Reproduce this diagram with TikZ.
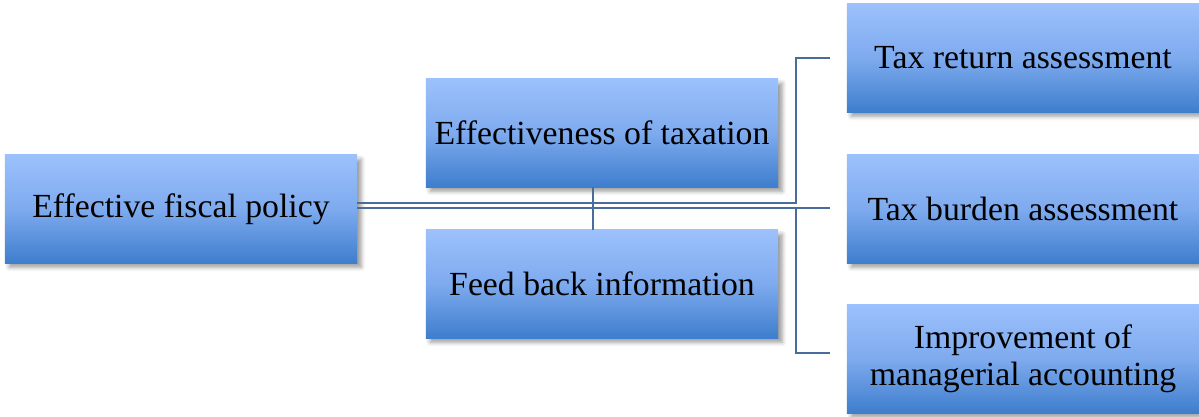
\documentclass[tikz,border=0pt]{standalone}
\usepackage{fontspec}
\setmainfont{Liberation Serif}
\usetikzlibrary{shadows.blur}
\definecolor{boxtop}{RGB}{156,193,252}
\definecolor{boxmid}{RGB}{126,170,238}
\definecolor{boxbot}{RGB}{62,126,205}
\definecolor{linecol}{RGB}{74,108,152}
\begin{document}
\begin{tikzpicture}[x=0.025cm,y=-0.025cm,
  box/.style={rectangle, minimum width=8.8cm, minimum height=2.7cm, inner sep=0pt,
    top color=boxtop, bottom color=boxbot, middle color=boxmid,
    blur shadow={shadow xshift=3pt, shadow yshift=-3pt, shadow blur radius=3pt, shadow opacity=40},
    font=\fontsize{24}{26}\selectfont, align=center, text=black},
  conn/.style={draw=linecol, line width=1.1pt},
  mainconn/.style={draw=linecol, line width=1.7pt}]
\useasboundingbox (0,0) rectangle (1199,416);
\node[box] (fiscal) at (181,209) {Effective fiscal policy};
\node[box] (eff) at (602,133) {Effectiveness of taxation};
\node[box] (feed) at (602,284) {Feed back information};
\node[box] (r1) at (1023,58) {Tax return assessment};
\node[box] (r2) at (1023,209) {Tax burden assessment};
\node[box] (r3) at (1023,359) {Improvement of\\managerial accounting};
\coordinate (ja) at (796,203);
\coordinate (jb) at (796,208);
\coordinate (e1) at (830,58);
\coordinate (e2) at (830,208);
\coordinate (e3) at (830,353);
\coordinate (v) at (593,0);
\draw[conn] (fiscal.east |- ja) -- (ja) |- (e1);
\draw[mainconn] (fiscal.east |- jb) -- (e2);
\draw[conn] (jb) |- (e3);
\draw[conn] (eff.south -| v) -- (feed.north -| v);
\end{tikzpicture}
\end{document}
